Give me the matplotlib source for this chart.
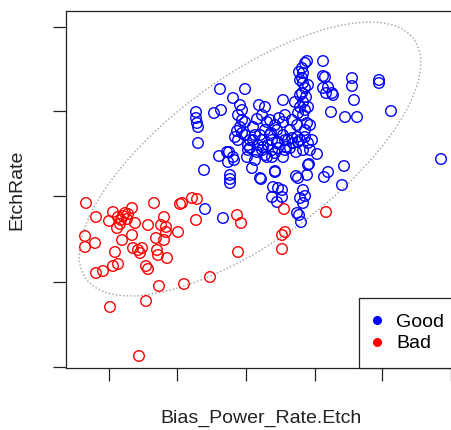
import matplotlib
matplotlib.use("Agg")
import matplotlib.pyplot as plt
from matplotlib.patches import Ellipse
from matplotlib.lines import Line2D

plt.rcParams['font.family'] = ['Liberation Sans', 'DejaVu Sans']

# values (arbitrary units, no tick labels in the original)
good_x = [205, 223, 204, 198, 196, 196, 197, 198, 214, 221, 220, 245, 233, 219, 229, 234, 230, 230, 230,
          240, 242, 238, 242, 240, 237, 242, 235,
          253, 259, 265, 257, 267, 279, 283, 295, 277, 271, 277, 253, 248, 257, 263, 247, 255, 267, 275, 283,
          286, 293, 297, 296, 303, 308, 305, 307, 303, 298, 308, 306, 302, 305, 300, 303, 299, 305, 307, 303,
          302, 300, 303, 290, 283,
          323, 325, 323, 328, 326, 333, 331, 323, 332,
          352, 352, 354, 345, 357, 379, 379, 391, 441,
          317, 309, 307, 296, 298, 328, 324, 344, 342,
          275, 261, 273, 282, 272, 277, 282, 278,
          303, 300, 303, 305, 299, 301, 297,
          252, 260, 238, 227, 228, 233, 250, 262, 265,
          272, 278, 285, 292, 298, 272, 308, 275,
          245, 250, 255, 262, 268, 272, 278, 285, 290, 270, 265, 275, 248, 258, 283, 288, 300, 305, 297, 292,
          285, 270, 262, 245, 260, 310, 312, 310, 305, 300, 308, 302]
good_y = [221, 212, 260, 287, 318, 312, 307, 303, 317, 320, 341, 341, 332, 274, 278, 270, 255, 251, 247,
          325, 320, 315, 310, 303, 299, 297, 293,
          303, 325, 323, 311, 308, 312, 330, 328, 300, 297, 287, 290, 280, 278, 283, 273, 270, 273, 277, 273,
          283, 287, 293, 278, 280, 287, 293, 307, 315, 317, 323, 333, 337, 342, 350, 357, 358, 367, 369, 347,
          352, 323, 328, 300, 308,
          369, 353, 354, 343, 337, 335, 318, 342, 337,
          352, 344, 330, 313, 313, 350, 347, 319, 271,
          276, 266, 255, 254, 252, 258, 253, 264, 245,
          259, 251, 243, 240, 233, 228, 233, 242,
          240, 232, 227, 234, 215, 208, 217,
          262, 252, 290, 278, 268, 273, 282, 280, 275,
          290, 288, 290, 292, 288, 273, 265, 258,
          295, 290, 295, 290, 285, 280, 282, 280, 282, 295, 300, 305, 285, 285, 295, 290, 290, 300, 305, 310,
          315, 310, 315, 308, 295, 280, 290, 305, 320, 335, 345, 362]

bad_x = [86, 96, 113, 109, 118, 125, 132, 121, 117, 135, 148, 154, 164, 161, 166, 156, 164, 178, 180, 182,
         192, 197, 196, 237, 241, 238, 284, 326, 282, 285, 282, 85, 85, 95, 122, 132, 115, 133, 138, 142,
         140, 157, 158, 167, 96, 103, 113, 118, 146, 148, 159, 184, 210, 110, 146, 139, 123, 127, 120, 128, 166]
bad_y = [227, 213, 218, 209, 213, 217, 222, 210, 202, 207, 205, 227, 213, 205, 198, 192, 190, 198, 226, 227,
         232, 231, 210, 215, 207, 178, 221, 218, 195, 198, 181, 194, 183, 187, 190, 195, 178, 182, 180, 182,
         177, 180, 175, 172, 157, 159, 164, 166, 164, 161, 144, 146, 153, 123, 129, 74, 214, 211, 206, 216, 203]

# confidence ellipse drawn over the data
ell_center = (250, 271)
ell_width = 406
ell_height = 164
ell_angle = 36.2

x_ticks = [109, 177, 246, 315, 382, 451]
y_ticks = [63, 148, 234, 319, 403]

fig = plt.figure(figsize=(4.52, 4.30), dpi=100)
ax = fig.add_axes([66 / 452, 1 - 368 / 430, 389 / 452, 357 / 430])

ax.add_patch(Ellipse(ell_center, ell_width, ell_height, angle=ell_angle, fill=False,
                     edgecolor='#a0a0a0', linestyle=(0, (1, 1.6)), linewidth=1.0))

ax.scatter(good_x, good_y, s=58, facecolors='none', edgecolors='#0000ff', linewidths=1.0)
ax.scatter(bad_x, bad_y, s=58, facecolors='none', edgecolors='#ff0000', linewidths=1.0)

ax.set_xlim(66, 455)
ax.set_ylim(62, 419)
ax.set_xticks(x_ticks)
ax.set_yticks(y_ticks)
ax.set_xticklabels([])
ax.set_yticklabels([])
ax.tick_params(direction='out', length=9.5, width=0.9, color='#222222')
for sp in ax.spines.values():
    sp.set_linewidth(0.9)
    sp.set_color('#222222')

ax.set_xlabel("Bias_Power_Rate.Etch", fontsize=14, color='#222222', va='center')
ax.xaxis.set_label_coords(0.5, -50 / 357)
ax.set_ylabel("EtchRate", fontsize=14, color='#222222', va='center')
ax.yaxis.set_label_coords(-49 / 389, 0.5)

handles = [Line2D([], [], marker='o', linestyle='none', color='#0000ff', markersize=5.5),
           Line2D([], [], marker='o', linestyle='none', color='#ff0000', markersize=5.5)]
leg_x0 = (359 - 66) / 389
leg = ax.legend(handles, ["Good", "Bad"], loc='lower left',
                bbox_to_anchor=(leg_x0, 0, 1.05 - leg_x0, 0.2), mode='expand',
                borderaxespad=0, fontsize=14, fancybox=False, framealpha=1, edgecolor='#222222',
                borderpad=0.8, labelspacing=0.2, handlelength=0.3, handletextpad=0.8)
leg.get_frame().set_linewidth(0.9)

fig.savefig("out.png", dpi=100)
